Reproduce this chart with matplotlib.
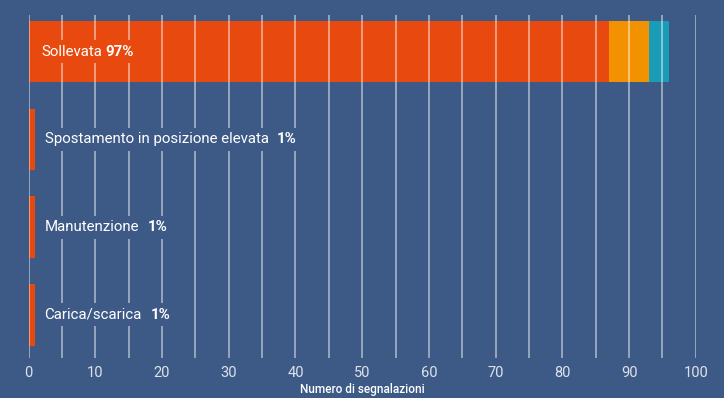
import matplotlib.pyplot as plt
from matplotlib.ticker import MultipleLocator

# dati
categorie = ['Sollevata', 'Spostamento in posizione elevata', 'Manutenzione', 'Carica/scarica']
percentuali = ['97%', '1%', '1%', '1%']
rosso = [87, 1, 1, 1]
arancio = [6, 0, 0, 0]
azzurro = [3, 0, 0, 0]

BG = '#3d5a87'
ROSSO = '#e8490f'
ARANCIO = '#f39200'
AZZURRO = '#1a9bb6'

plt.rcParams['font.family'] = ['Roboto', 'DejaVu Sans']

fig = plt.figure(figsize=(7.24, 3.98), dpi=100, facecolor=BG)
ax = fig.add_axes([28.6 / 724, 1 - 358 / 398, (695.8 - 28.6) / 724, (358 - 14.7) / 398])
ax.set_facecolor(BG)

y = list(range(len(categorie)))
ax.barh(y, rosso, height=0.7, color=ROSSO, zorder=1)
ax.barh(y, arancio, left=rosso, height=0.7, color=ARANCIO, zorder=1)
left2 = [r + a for r, a in zip(rosso, arancio)]
ax.barh(y, azzurro, left=left2, height=0.7, color=AZZURRO, zorder=1)

ax.set_xlim(0, 100)
ax.set_ylim(3.49, -0.42)

# griglia verticale ogni 5
ax.xaxis.set_major_locator(MultipleLocator(10))
ax.xaxis.set_minor_locator(MultipleLocator(5))
ax.set_axisbelow(False)
ax.grid(axis='x', which='both', color='white', alpha=0.5, linewidth=1.3)
ax.set_yticks([])
ax.tick_params(axis='x', which='both', length=0, pad=6, labelsize=10.5, labelcolor='#dde2ea')
for s in ax.spines.values():
    s.set_visible(False)

ax.set_xlabel('Numero di segnalazioni', color='white', fontsize=8.5, fontweight='medium', labelpad=2)

# etichette
for i, (cat, pct) in enumerate(zip(categorie, percentuali)):
    fc = ROSSO if i == 0 else BG
    x0 = 1.9 if i == 0 else 2.4
    t = ax.text(x0, i, cat, color='white', fontsize=10.8, va='center', ha='left', zorder=5,
                bbox=dict(boxstyle='square,pad=0.3', fc=fc, ec='none'))
    ax.annotate(pct, xy=(1, 0.5), xycoords=t, xytext=(2.5 if i == 0 else 6, 0),
                textcoords='offset points', color='white', fontsize=10.8, fontweight='bold',
                va='center', ha='left', zorder=5,
                bbox=dict(boxstyle='square,pad=0.3', fc=fc, ec='none'))

fig.savefig('out.png', dpi=100, facecolor=BG)
